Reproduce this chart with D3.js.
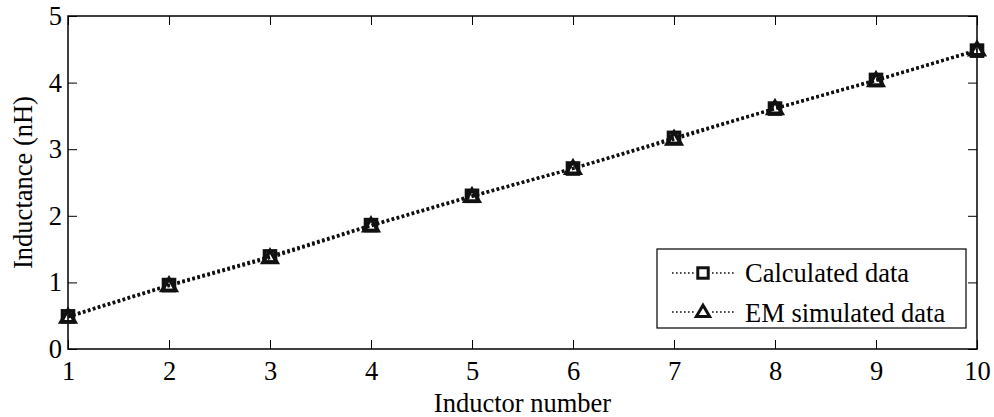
<!DOCTYPE html>
<html>
<head>
<meta charset="utf-8">
<script src="https://cdn.jsdelivr.net/npm/d3@7"></script>
<style>
  html, body { margin: 0; padding: 0; background: #fff; }
  svg { display: block; }
  svg text { font-family: "Times New Roman", "Liberation Serif", Tinos, Times, "DejaVu Serif", serif !important; fill: #000; }
</style>
</head>
<body>
<svg id="chart" width="994" height="417"></svg>
<script>
const inductors = [1, 2, 3, 4, 5, 6, 7, 8, 9, 10];
const calculated = [0.49, 0.96, 1.39, 1.86, 2.30, 2.71, 3.17, 3.61, 4.04, 4.48];
const emSimulated = [0.48, 0.95, 1.37, 1.85, 2.29, 2.71, 3.15, 3.61, 4.03, 4.49];
const xTicks = [1, 2, 3, 4, 5, 6, 7, 8, 9, 10];
const yTicks = [0, 1, 2, 3, 4, 5];
const seriesNames = ["Calculated data", "EM simulated data"];
const xTitle = "Inductor number";
const yTitle = "Inductance (nH)";

const FONT = '"Times New Roman", "Liberation Serif", Tinos, Times, "DejaVu Serif", serif';
const svg = d3.select("#chart").attr("font-family", FONT);
const L = 68, R = 977, T = 16, B = 349;
const x = d3.scaleLinear().domain([1, 10]).range([L, R]);
const y = d3.scaleLinear().domain([0, 5]).range([B, T]);
const FS = 26.5;
const ink = "#111";

// frame
svg.append("rect").attr("x", L).attr("y", T).attr("width", R - L).attr("height", B - T)
  .attr("fill", "none").attr("stroke", "#000").attr("stroke-width", 1.5);

// axes with inward ticks
const tickLen = 9;
const gx = svg.append("g").attr("transform", `translate(0,${B})`)
  .call(d3.axisBottom(x).tickValues(xTicks).tickFormat(d3.format("d")).tickSizeInner(-tickLen).tickSizeOuter(0).tickPadding(0));
const gxt = svg.append("g").attr("transform", `translate(0,${T})`)
  .call(d3.axisTop(x).tickValues(xTicks).tickFormat("").tickSizeInner(-tickLen).tickSizeOuter(0));
const gy = svg.append("g").attr("transform", `translate(${L},0)`)
  .call(d3.axisLeft(y).tickValues(yTicks).tickFormat(d3.format("d")).tickSizeInner(-tickLen).tickSizeOuter(0).tickPadding(0));
const gyr = svg.append("g").attr("transform", `translate(${R},0)`)
  .call(d3.axisRight(y).tickValues(yTicks).tickFormat("").tickSizeInner(-tickLen).tickSizeOuter(0));

[gx, gxt, gy, gyr].forEach(g => {
  g.attr("font-family", FONT).attr("font-size", FS);
  g.select(".domain").remove();
  g.selectAll(".tick line").attr("stroke", "#000").attr("stroke-width", 1);
});
gx.selectAll(".tick text").attr("font-size", FS).attr("dy", null).attr("y", 31);
gy.selectAll(".tick text").attr("font-size", FS).attr("x", -6).attr("dy", "0.32em");

// axis titles
svg.append("text").attr("x", (L + R) / 2).attr("y", 412).attr("text-anchor", "middle")
  .attr("font-size", FS).text(xTitle);
svg.append("text").attr("transform", `translate(32,${(T + B) / 2}) rotate(-90)`)
  .attr("text-anchor", "middle").attr("font-size", FS).text(yTitle);

// data
const series = [
  { name: seriesNames[0], values: calculated, marker: "square" },
  { name: seriesNames[1], values: emSimulated, marker: "triangle" }
];
const line = d3.line().x((d, i) => x(inductors[i])).y(d => y(d));

function drawMarker(g, type, cx, cy, scale, sw) {
  if (type === "square") {
    const s = 11 * scale;
    g.append("rect").attr("x", cx - s / 2).attr("y", cy - s / 2).attr("width", s).attr("height", s)
      .attr("fill", "none").attr("stroke", ink).attr("stroke-width", sw);
  } else {
    const w = 14 * scale, h = 12 * scale;
    const pts = [[cx, cy - h * 0.6], [cx + w / 2, cy + h * 0.4], [cx - w / 2, cy + h * 0.4]];
    g.append("polygon").attr("points", pts.map(p => p.join(",")).join(" "))
      .attr("fill", "none").attr("stroke", ink).attr("stroke-width", sw).attr("stroke-linejoin", "miter");
  }
}

series.forEach(s => {
  svg.append("path").datum(s.values).attr("d", line)
    .attr("fill", "none").attr("stroke", ink).attr("stroke-width", 3.2)
    .attr("stroke-dasharray", "2.6,2.6");
});
series.forEach(s => {
  const g = svg.append("g");
  s.values.forEach((v, i) => drawMarker(g, s.marker, x(inductors[i]), y(v), 1, 3.6));
});

// legend
const lg = svg.append("g");
lg.append("rect").attr("x", 657).attr("y", 249).attr("width", 309).attr("height", 79)
  .attr("fill", "#fff").attr("stroke", "#000").attr("stroke-width", 1.2);
series.forEach((s, i) => {
  const cy = 273 + i * 39;
  lg.append("line").attr("x1", 672).attr("x2", 735).attr("y1", cy).attr("y2", cy)
    .attr("stroke", ink).attr("stroke-width", 1.6).attr("stroke-dasharray", "1.6,2.4");
  lg.append("rect").attr("x", 696).attr("y", cy - 8).attr("width", 14).attr("height", 15).attr("fill", "#fff");
  drawMarker(lg, s.marker, 703, cy, 0.95, 3);
  lg.append("text").attr("x", 745).attr("y", 282 + i * 40).attr("font-size", FS).text(s.name);
});
</script>
</body>
</html>
